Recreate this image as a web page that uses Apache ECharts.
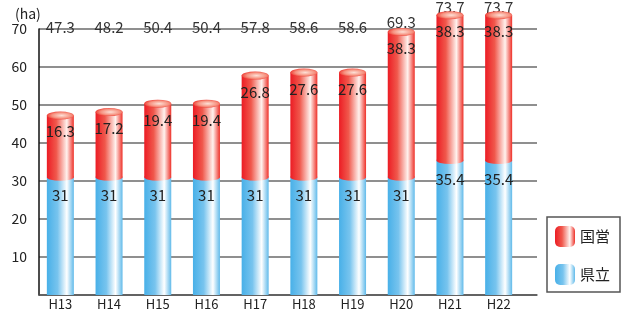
<!DOCTYPE html>
<html>
<head>
<meta charset="utf-8">
<script src="https://cdn.jsdelivr.net/npm/echarts@6/dist/echarts.min.js"></script>
<style>
  html, body { margin: 0; padding: 0; background: #fff; }
  #chart { width: 627px; height: 313px; }
</style>
</head>
<body>
<div id="chart"></div>
<script>
// データ
const years = ["H13", "H14", "H15", "H16", "H17", "H18", "H19", "H20", "H21", "H22"];
const kenritsu = [31, 31, 31, 31, 31, 31, 31, 31, 35.4, 35.4];
const kokuei = [16.3, 17.2, 19.4, 19.4, 26.8, 27.6, 27.6, 38.3, 38.3, 38.3];
const totals = [47.3, 48.2, 50.4, 50.4, 57.8, 58.6, 58.6, 69.3, 73.7, 73.7];
const yTicks = [0, 10, 20, 30, 40, 50, 60, 70];

const FONT = "Noto Sans CJK JP";

const redGrad = new echarts.graphic.LinearGradient(0, 0, 1, 0, [
  { offset: 0, color: "#ec1c24" },
  { offset: 0.35, color: "#f0584c" },
  { offset: 0.74, color: "#fff2ee" },
  { offset: 1, color: "#ee3028" },
]);
const blueGrad = new echarts.graphic.LinearGradient(0, 0, 1, 0, [
  { offset: 0, color: "#48b0e8" },
  { offset: 0.4, color: "#78c4ee" },
  { offset: 0.74, color: "#ffffff" },
  { offset: 1, color: "#60baea" },
]);
const capGrad = new echarts.graphic.RadialGradient(0.55, 0.5, 0.6, [
  { offset: 0, color: "#fde0d6" },
  { offset: 0.6, color: "#f6907e" },
  { offset: 1, color: "#ec2a24" },
]);

let myChart = echarts.init(document.getElementById("chart"));
let option = {
  animation: false,
  textStyle: { fontFamily: FONT },
  title: {
    text: "(ha)",
    left: 10,
    top: 2,
    textStyle: { fontSize: 14, fontWeight: "normal", color: "#222", fontFamily: FONT },
  },
  legend: {
    data: ["国営", "県立"],
    orient: "vertical",
    left: 547,
    top: 217,
    padding: [9, 10, 7, 8],
    itemWidth: 20,
    itemHeight: 21,
    itemGap: 17,
    borderColor: "#555",
    borderWidth: 1.5,
    borderRadius: 0,
    textStyle: { fontSize: 15, color: "#222", fontFamily: FONT },
  },
  grid: [
    // 枠・目盛線
    { left: 39, right: 90, top: 29, bottom: 18 },
    // 棒（70を超える分も描けるよう上端まで: 3.8px/ha → 295px = 77.6ha）
    { left: 36, width: 487, top: 0, bottom: 18 },
    // 合計ラベル
    { left: 36, width: 487, top: 29, bottom: 18 },
  ],
  xAxis: [
    {
      gridIndex: 0,
      type: "value",
      min: 0,
      max: 1,
      axisLine: { show: true, lineStyle: { color: "#555", width: 1.5 } },
      axisTick: { show: false },
      axisLabel: { show: false },
      splitLine: { show: false },
    },
    {
      gridIndex: 1,
      type: "category",
      data: years,
      axisLine: { show: false },
      axisTick: { show: false },
      axisLabel: { margin: 3, fontSize: 13, color: "#222", fontFamily: FONT },
    },
    {
      gridIndex: 2,
      type: "category",
      position: "top",
      data: totals.map((v) => v.toFixed(1)),
      axisLine: { show: false },
      axisTick: { show: false },
      axisLabel: {
        margin: 2,
        interval: 0,
        formatter: (v) => {
          let n = parseFloat(v);
          if (n > 70) return "{c|" + v + "}";
          if (n > 60) return "{b|" + v + "}";
          return "{a|" + v + "}";
        },
        rich: {
          a: { fontSize: 15, color: "#333", fontFamily: FONT },
          b: { fontSize: 15, color: "#333", fontFamily: FONT, padding: [0, 0, 5, 0] },
          c: { fontSize: 15, color: "#333", fontFamily: FONT, padding: [0, 0, 20, 0] },
        },
      },
    },
  ],
  yAxis: [
    {
      gridIndex: 0,
      type: "value",
      min: yTicks[0],
      max: yTicks[yTicks.length - 1],
      interval: 10,
      axisLine: { show: true, lineStyle: { color: "#111", width: 1.5 } },
      axisTick: { show: false },
      axisLabel: {
        margin: 12,
        fontSize: 14,
        color: "#222",
        fontFamily: FONT,
        formatter: (v) => (v === 0 ? "" : v),
      },
      splitLine: { show: true, lineStyle: { color: "#6a6a6a", width: 1.5 } },
    },
    {
      gridIndex: 1,
      type: "value",
      min: 0,
      max: 295 / 3.8,
      show: false,
      splitLine: { show: false },
    },
    {
      gridIndex: 2,
      type: "value",
      min: 0,
      max: 70,
      show: false,
      splitLine: { show: false },
    },
  ],
  series: [
    {
      name: "県立",
      type: "bar",
      xAxisIndex: 1,
      yAxisIndex: 1,
      stack: "total",
      barWidth: 27,
      data: kenritsu,
      itemStyle: { color: blueGrad },
      label: {
        show: true,
        position: "insideTop",
        distance: 11,
        fontSize: 15,
        color: "#222",
        fontFamily: FONT,
      },
      z: 2,
    },
    {
      name: "国営",
      type: "bar",
      xAxisIndex: 1,
      yAxisIndex: 1,
      stack: "total",
      barWidth: 27,
      data: kokuei,
      itemStyle: { color: redGrad },
      label: {
        show: true,
        position: "insideTop",
        distance: 9,
        fontSize: 15,
        color: "#222",
        fontFamily: FONT,
      },
      z: 2,
    },
    {
      // 国営の下端（丸み）
      type: "pictorialBar",
      xAxisIndex: 1,
      yAxisIndex: 1,
      symbol: "circle",
      symbolSize: [27, 7],
      symbolPosition: "end",
      symbolOffset: [0, "-50%"],
      data: kenritsu,
      itemStyle: { color: redGrad },
      z: 3,
    },
    {
      // 上面
      type: "pictorialBar",
      xAxisIndex: 1,
      yAxisIndex: 1,
      symbol: "circle",
      symbolSize: [27, 8],
      symbolPosition: "end",
      symbolOffset: [0, "-50%"],
      data: totals,
      itemStyle: { color: capGrad, borderColor: "#ec2a24", borderWidth: 0.8 },
      z: 4,
    },
  ],
};
option && myChart.setOption(option);
</script>
</body>
</html>
